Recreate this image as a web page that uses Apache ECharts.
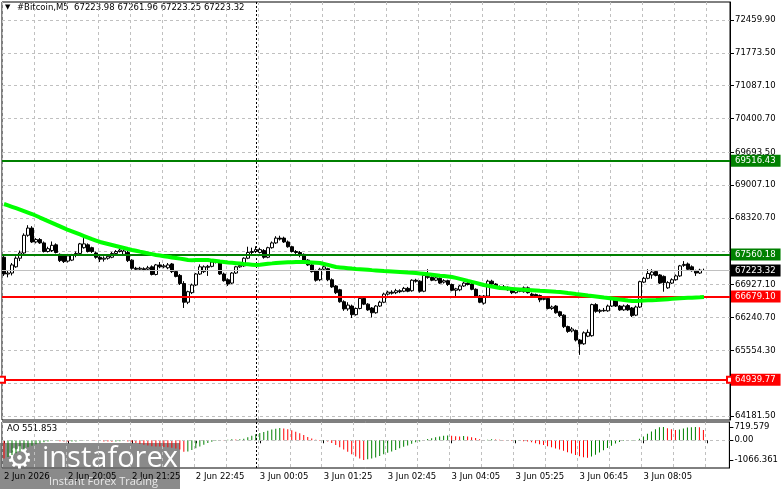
<!DOCTYPE html>
<html><head><meta charset="utf-8">
<script src="https://cdn.jsdelivr.net/npm/echarts@6/dist/echarts.min.js"></script>
<style>html,body{margin:0;padding:0;background:#fff}#c{width:781px;height:489px}</style>
</head><body><div id="c"></div>
<script>
// ---- data ----
const timeTickLabels = ["2 Jun 2026","2 Jun 20:05","2 Jun 21:25","2 Jun 22:45","3 Jun 00:05","3 Jun 01:25","3 Jun 02:45","3 Jun 04:05","3 Jun 05:25","3 Jun 06:45","3 Jun 08:05"];
const openP = [67500,67150,67170,67300,67480,67590,67960,68110,67820,67870,67800,67620,67640,67760,67560,67540,67420,67440,67540,67580,67700,67760,67700,67590,67500,67460,67480,67500,67580,67620,67560,67600,67440,67270,67250,67260,67250,67300,67140,67340,67300,67280,67360,67200,67120,66950,66560,66760,66920,67150,67200,67290,67310,67400,67400,67150,67030,66960,67170,67300,67320,67480,67600,67620,67600,67640,67500,67700,67800,67900,67900,67820,67720,67620,67600,67560,67440,67340,67220,67030,67250,67260,67030,66900,66820,66570,66420,66480,66300,66430,66640,66520,66440,66340,66480,66560,66730,66770,66760,66800,66790,66850,66800,67020,67000,66790,67100,67080,67020,67060,66980,67010,66930,66810,66820,66900,66960,66940,66830,66690,66540,66690,67000,66940,66860,66880,66870,66830,66760,66810,66780,66860,66730,66720,66700,66620,66640,66430,66480,66360,66290,66050,65960,65970,65770,65690,65850,65860,66510,66370,66390,66380,66480,66600,66480,66400,66490,66440,66290,66460,66980,67060,67130,67200,67130,67100,66860,66960,67030,67110,67330,67360,67300,67210,67170,67223.98];
const closeP = [67150,67170,67340,67480,67590,67960,68110,67820,67870,67800,67620,67680,67750,67600,67430,67410,67530,67540,67580,67780,67780,67620,67620,67500,67460,67480,67520,67580,67620,67650,67630,67430,67270,67250,67270,67240,67280,67140,67340,67300,67320,67340,67200,67100,66950,66560,66780,66920,67150,67300,67300,67310,67400,67410,67150,67010,66940,67170,67300,67330,67480,67600,67620,67660,67660,67500,67700,67800,67900,67880,67820,67720,67620,67600,67540,67440,67340,67200,67020,67250,67300,67030,66880,66760,66570,66420,66500,66300,66430,66640,66520,66400,66340,66480,66560,66730,66770,66750,66800,66780,66850,66790,67020,67000,66790,67120,67080,67020,67070,66960,67010,66930,66810,66840,66900,66960,66930,66830,66690,66560,66690,67000,66940,66860,66880,66870,66820,66760,66810,66790,66860,66760,66700,66670,66610,66640,66430,66460,66340,66280,66050,65950,66000,65770,65690,65920,65930,66510,66370,66390,66380,66480,66620,66480,66400,66480,66400,66280,66460,66990,67060,67160,67190,67120,66960,66970,66970,67030,67110,67320,67350,67250,67220,67170,67230,67223.32];
const lowP = [67110,67080,67120,67280,67420,67560,67930,67800,67790,67780,67600,67600,67610,67580,67400,67380,67390,67420,67500,67560,67680,67600,67590,67470,67400,67410,67450,67480,67560,67600,67540,67400,67240,67220,67220,67210,67230,67120,67120,67270,67270,67250,67170,67080,66920,66440,66520,66730,66900,67130,67170,67110,67290,67370,67130,66990,66900,66940,67150,67280,67300,67460,67560,67590,67580,67470,67480,67680,67780,67850,67800,67700,67600,67570,67500,67420,67320,67180,66990,67000,67220,67000,66860,66730,66550,66380,66380,66230,66280,66410,66500,66380,66240,66320,66460,66540,66700,66720,66730,66750,66770,66770,66780,66970,66760,66770,67050,67000,67000,66940,66950,66900,66790,66660,66790,66880,66910,66810,66670,66540,66510,66670,66910,66840,66840,66850,66800,66730,66740,66770,66760,66740,66680,66650,66560,66600,66410,66400,66320,66250,66020,65920,65930,65740,65460,65670,65830,65840,66340,66330,66360,66360,66460,66460,66380,66380,66380,66250,66270,66440,66960,67040,67050,67100,66940,66780,66840,66940,67010,67090,67300,67230,67200,67110,67150,67223.25];
const highP = [67530,67230,67380,67520,67640,68000,68170,68150,67900,67900,67830,67720,67830,67790,67580,67560,67570,67570,67620,67800,67900,67790,67720,67620,67530,67520,67560,67610,67650,67700,67680,67640,67460,67300,67300,67290,67320,67330,67360,67400,67360,67380,67380,67230,67150,67000,66800,66950,67170,67350,67330,67340,67430,67450,67430,67180,67060,67190,67320,67370,67500,67720,67700,67730,67700,67670,67720,67830,67940,67950,67930,67850,67740,67650,67630,67580,67460,67360,67240,67280,67340,67280,67060,66920,66840,66600,66560,66510,66450,66660,66680,66540,66460,66500,66590,66760,66800,66810,66840,66830,66880,66880,67040,67050,67020,67140,67250,67100,67100,67080,67040,67030,66950,66860,66920,66990,66990,66970,66850,66710,66710,67030,67030,66960,66910,66920,66890,66850,66840,66830,66890,66890,66760,66740,66720,66670,66660,66490,66500,66380,66310,66070,66040,65990,65790,65950,65990,66530,66540,66420,66440,66510,66660,66630,66500,66510,66520,66460,66490,67010,67090,67250,67250,67230,67150,67120,67000,67060,67140,67340,67420,67390,67330,67240,67260,67261.96];
const ma = [68613,68585,68555,68525,68495,68465,68435,68404,68368,68330,68293,68256,68219,68182,68145,68108,68070,68040,68008,67976,67944,67912,67880,67850,67819,67798,67777,67756,67735,67714,67693,67672,67652,67635,67617,67600,67582,67565,67547,67535,67522,67510,67497,67485,67471,67457,67443,67440,67443,67445,67443,67443,67430,67420,67410,67401,67392,67384,67376,67368,67359,67352,67345,67338,67345,67355,67365,67372,67380,67385,67390,67395,67398,67401,67401,67401,67396,67391,67386,67380,67360,67340,67318,67296,67288,67280,67272,67263,67255,67250,67244,67238,67231,67225,67219,67213,67208,67203,67198,67193,67187,67181,67176,67171,67162,67153,67143,67134,67125,67115,67106,67097,67087,67068,67048,67028,67006,66985,66964,66942,66920,66905,66889,66873,66857,66851,66845,66839,66833,66827,66821,66816,66811,66806,66800,66795,66790,66785,66779,66774,66764,66753,66743,66732,66722,66711,66700,66690,66680,66669,66658,66648,66638,66628,66617,66607,66596,66586,66588,66592,66596,66600,66603,66607,66612,66618,66624,66630,66636,66642,66648,66652,66656,66660,66664,66669];
const ao = [-980,-900,-800,-700,-600,-480,-380,-300,-220,-160,-110,-70,-40,-30,-50,-70,-80,-70,-60,-30,10,20,15,-10,-40,-60,-70,-75,-60,-50,-40,-60,-100,-150,-200,-240,-280,-320,-330,-340,-360,-380,-400,-440,-500,-620,-600,-520,-430,-330,-240,-150,-80,-20,20,10,30,50,40,60,90,160,250,330,400,450,520,580,630,660,640,600,540,460,380,280,180,100,30,-20,10,-60,-150,-250,-370,-500,-620,-760,-880,-980,-1066.361,-1030,-980,-930,-850,-760,-680,-600,-520,-430,-350,-280,-190,-110,-60,20,70,110,160,200,240,260,240,220,210,230,200,170,120,60,20,30,50,40,30,20,-10,-30,-20,-40,-50,-70,-110,-160,-210,-260,-320,-380,-440,-500,-570,-650,-720,-790,-860,-920,-950,-880,-780,-660,-540,-420,-300,-180,-90,-30,10,15,20,80,200,350,480,600,700,719.579,650,600,560,590,640,690,710,715,700,551.853];
const priceLabels = [72459.90,71773.50,71087.10,70400.70,69693.50,69007.10,68320.70,66927.10,66240.70,65554.30,64867.90,64181.50];
const gridPrices = [72459.90,71773.50,71087.10,70400.70,69693.50,69007.10,68320.70,67634.30,66927.10,66240.70,65554.30,64867.90,64181.50];
const aoLabels = [719.579, 0, -1066.361];
const greenLevels = [69516.43, 67560.18];
const redLevels = [66679.10, 64939.77];
const lastPrice = 67223.32;
const separatorBar = 63;
const nBars = 182;

// ---- chart ----
const cats = Array.from({length: nBars}, (_, i) => String(i));
const candles = openP.map((o, i) => [o, closeP[i], lowP[i], highP[i]]);
const FONT = 'DejaVu Sans';
const chart = echarts.init(document.getElementById('c'), null, {renderer: 'canvas'});
const dashed = {color: '#c0c0c0', type: [3, 3], width: 1};
function tag(bg, txt) {
  return {show: true, position: 'end', distance: 1, formatter: txt, backgroundColor: bg, color: '#fff',
          fontFamily: FONT, fontSize: 8.5, padding: [1, 5, 1, 4], lineHeight: 10};
}
const option = {
  animation: false,
  backgroundColor: '#fff',
  grid: [
    {left: 2, right: 51, top: 2, height: 418, show: true, borderColor: '#000', borderWidth: 1, backgroundColor: 'transparent'},
    {left: 2, right: 51, top: 422, height: 46, show: true, borderColor: '#000', borderWidth: 1, backgroundColor: 'transparent'}
  ],
  xAxis: [
    {type: 'category', gridIndex: 0, data: cats, boundaryGap: true,
     axisLine: {show: false}, axisTick: {show: false}, axisLabel: {show: false},
     splitLine: {show: true, interval: 7, lineStyle: dashed}},
    {type: 'category', gridIndex: 1, data: cats, boundaryGap: true,
     axisLine: {show: false},
     axisTick: {show: true, interval: 15, alignWithLabel: true, length: 3, lineStyle: {color: '#000'}},
     axisLabel: {show: true, interval: 15, align: 'left', margin: 4, color: '#000', fontFamily: FONT, fontSize: 8.5,
                 formatter: (v, idx) => timeTickLabels[idx / 16] || ''},
     splitLine: {show: true, interval: 7, lineStyle: dashed}}
  ],
  yAxis: [
    {type: 'value', gridIndex: 0, position: 'right', min: 64098, max: 72836, scale: true,
     axisLine: {show: true, lineStyle: {color: '#000'}},
     axisTick: {show: true, length: 4, customValues: gridPrices, lineStyle: {color: '#000'}},
     axisLabel: {show: true, customValues: priceLabels, margin: 5, color: '#000', fontFamily: FONT, fontSize: 8.5,
                 formatter: v => v.toFixed(2)},
     splitLine: {show: true, lineStyle: dashed}},
    {type: 'value', gridIndex: 1, position: 'right', min: -1499, max: 990,
     axisLine: {show: true, lineStyle: {color: '#000'}},
     axisTick: {show: true, length: 4, customValues: aoLabels, lineStyle: {color: '#000'}},
     axisLabel: {show: true, customValues: aoLabels, margin: 5, color: '#000', fontFamily: FONT, fontSize: 8.5,
                 formatter: v => v === 0 ? '0.00' : v.toFixed(3)},
     splitLine: {show: false}}
  ],
  series: [
    {type: 'candlestick', xAxisIndex: 0, yAxisIndex: 0, data: candles, barWidth: 3, z: 3,
     itemStyle: {color: '#fff', color0: '#000', borderColor: '#000', borderColor0: '#000', borderWidth: 1},
     markLine: {silent: true, symbol: ['none', 'none'], animation: false,
       data: [
         {xAxis: cats[separatorBar], lineStyle: {color: '#000', type: [2, 2], width: 1}, label: {show: false}},
         {yAxis: lastPrice, lineStyle: {color: '#c0c0c0', type: 'solid', width: 1}, label: tag('#000', lastPrice.toFixed(2))},
         {yAxis: greenLevels[0], lineStyle: {color: '#008000', type: 'solid', width: 2}, label: tag('#008000', greenLevels[0].toFixed(2))},
         {yAxis: greenLevels[1], lineStyle: {color: '#008000', type: 'solid', width: 2}, label: tag('#008000', greenLevels[1].toFixed(2))},
         {yAxis: redLevels[0], lineStyle: {color: '#ff0000', type: 'solid', width: 2}, label: tag('#ff0000', redLevels[0].toFixed(2))}
       ]}},
    {type: 'line', xAxisIndex: 0, yAxisIndex: 0, data: [], z: 4,
     markLine: {silent: true, symbol: ['emptyRect', 'emptyRect'], symbolSize: 6, animation: false,
       data: [{yAxis: redLevels[1], lineStyle: {color: '#ff0000', type: 'solid', width: 2}, label: tag('#ff0000', redLevels[1].toFixed(2))}]}},
    {type: 'line', xAxisIndex: 0, yAxisIndex: 0, data: ma, showSymbol: false, symbol: 'none', z: 5,
     lineStyle: {color: '#00ff00', width: 4}},
    {type: 'bar', xAxisIndex: 1, yAxisIndex: 1, data: ao, barWidth: 1, z: 3,
     itemStyle: {color: p => (p.dataIndex > 0 && ao[p.dataIndex] > ao[p.dataIndex - 1]) ? '#008000' : '#ff0000'},
     markLine: {silent: true, symbol: ['none', 'none'], animation: false,
       data: [
         {yAxis: 0, lineStyle: dashed, label: {show: false}},
         {xAxis: cats[separatorBar], lineStyle: {color: '#000', type: [2, 2], width: 1}, label: {show: false}}
       ]}}
  ],
  graphic: [
    {type: 'text', left: 5, top: 4, style: {text: '▼', font: '7px "DejaVu Sans"', fill: '#000'}},
    {type: 'text', left: 17, top: 3, style: {text: '#Bitcoin,M5  67223.98 67261.96 67223.25 67223.32', font: '8.5px "DejaVu Sans"', fill: '#000'}},
    {type: 'text', left: 7, top: 424, style: {text: 'AO 551.853', font: '8.5px "DejaVu Sans"', fill: '#000'}},
    {type: 'group', left: 0, top: 443, children: [
      {type: 'rect', shape: {x: 0, y: 0, width: 180, height: 46}, style: {fill: 'rgba(105,105,105,0.78)'}},
      {type: 'text', x: 6, y: 2, style: {text: '⚙', font: '30px "DejaVu Sans"', fill: '#fff'}},
      {type: 'text', x: 42, y: 1, style: {text: 'instaforex', font: '29px "Open Sans"', fill: '#fff'}},
      {type: 'text', x: 49, y: 33, style: {text: 'Instant Forex Trading', font: '11px "Open Sans"', fill: '#e8e8e8'}}
    ]}
  ]
};
chart.setOption(option);
</script></body></html>
